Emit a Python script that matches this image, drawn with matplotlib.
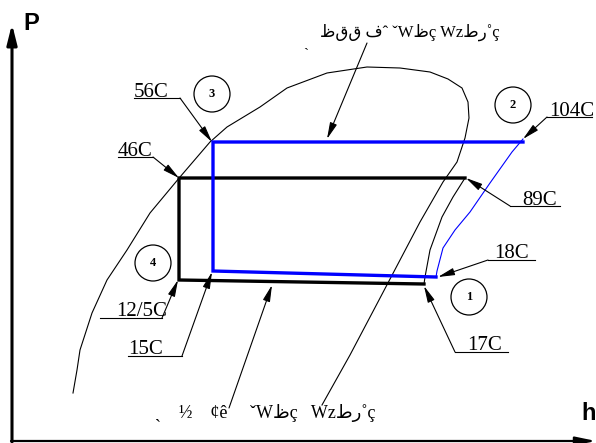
import matplotlib.pyplot as plt

# schematic P-h diagram, coordinates in picture units (h to the right, p downward on screen)
dome_h = [73, 77, 80, 92, 107, 127, 150, 180, 210, 227, 260, 287, 327, 367, 400, 430, 448,
          462, 468, 469, 465, 457, 443, 420, 379, 350, 322]
dome_p = [393, 370, 350, 313, 280, 250, 213, 177, 142, 127, 107, 88, 73, 67, 68, 72, 79,
          88, 102, 118, 138, 162, 182, 222, 300, 355, 405]

# blue cycle (cond 56C / evap 15C)
blue_h = [523, 213, 213, 436]
blue_p = [142, 142, 271, 277]
blue_comp_h = [436, 437, 443, 455, 470, 490, 512, 523]
blue_comp_p = [277, 271, 248, 230, 212, 183, 152, 139]

# black cycle (cond 46C / evap 12.5C)
black_h = [465, 179, 179, 424]
black_p = [178, 178, 280, 284]
black_comp_h = [424, 425, 430, 442, 453, 465]
black_comp_p = [284, 277, 250, 217, 197, 178]

# temperature labels: text, underline start/end, leader tip
temp_labels = ['56C', '46C', '12/5C', '15C', '104C', '89C', '18C', '17C']
label_line = [((134, 98), (180, 98)), ((118, 157), (153, 157)), ((100, 318), (162, 318)),
              ((128, 356), (182, 356)), ((592, 117), (547, 117)), ((560, 206), (510, 206)),
              ((535, 260), (488, 260)), ((508, 352), (455, 352))]
label_tip = [(212, 142), (179, 178), (178, 280), (212, 272), (523, 139), (466, 178), (438, 277), (424, 286)]
label_left = [134, 118, 116, 128, 549, 522, 494, 467]

state_nums = ['1', '2', '3', '4']
state_circ = [(469, 297), (513, 105), (212, 94), (153, 263)]

top_text = 'ظقق فˆ ˇWظç Wzطر˚ç'
bottom_text = 'ˏ    ½    ¢ê     ˇWظç   Wzطر˚ç'

fig = plt.figure(figsize=(5.96, 4.43), dpi=100)
ax = fig.add_axes([0, 0, 1, 1])
ax.set_xlim(0, 596)
ax.set_ylim(443, 0)
ax.axis('off')

serif = ['Liberation Serif', 'DejaVu Sans']
arrow = dict(arrowstyle='-|>,head_length=1.0,head_width=0.22', color='black', lw=0.8,
             shrinkA=0, shrinkB=0, mutation_scale=10)

# axes arrows
ax.annotate('', xy=(12, 24), xytext=(12, 442), annotation_clip=False,
            arrowprops=dict(arrowstyle='-|>,head_length=1.2,head_width=0.3',
                            color='black', lw=2.2, shrinkA=0, shrinkB=0, mutation_scale=10))
ax.annotate('', xy=(596, 441), xytext=(11, 441), annotation_clip=False,
            arrowprops=dict(arrowstyle='-|>,head_length=1.2,head_width=0.25',
                            color='black', lw=1.6, shrinkA=0, shrinkB=0, mutation_scale=10))
ax.text(23, 30, 'P', fontsize=17, fontweight='bold', family='Liberation Sans', va='baseline')
ax.text(581, 420, 'h', fontsize=17, fontweight='bold', family='Liberation Sans', va='baseline')

# saturation dome
ax.plot(dome_h, dome_p, color='black', lw=0.8)

# cycles
ax.plot(black_h, black_p, color='black', lw=2.4, solid_joinstyle='miter')
ax.plot(black_comp_h, black_comp_p, color='black', lw=0.8)
ax.plot(blue_h, blue_p, color='#0000ff', lw=2.4, solid_joinstyle='miter')
ax.plot(blue_comp_h, blue_comp_p, color='#0000ff', lw=0.8)

# temperature labels
for txt, (a, b), tip, lx in zip(temp_labels, label_line, label_tip, label_left):
    ax.plot([a[0], b[0]], [a[1], b[1]], color='black', lw=0.8)
    ax.annotate('', xy=tip, xytext=b, arrowprops=arrow)
    ax.text(lx, a[1] - 1.5, txt, fontsize=15, family=serif, ha='left', va='baseline')

# state circles
for num, (cx, cy) in zip(state_nums, state_circ):
    ax.add_patch(plt.Circle((cx, cy), 18, fill=False, color='black', lw=0.9))
    ax.text(cx, cy, num, fontsize=9, fontweight='bold', family=serif, ha='center', va='center')

# line names with leaders
ax.text(303, 47, 'ˏ', fontsize=11, family=serif, va='baseline')
ax.text(320, 37, top_text, fontsize=12, family=serif, va='baseline')
ax.annotate('', xy=(327, 139), xytext=(367, 43), arrowprops=arrow)
ax.text(155, 418, bottom_text, fontsize=13, family=serif, va='baseline')
ax.annotate('', xy=(272, 285), xytext=(229, 408), arrowprops=arrow)

fig.savefig('out.png', dpi=100)
